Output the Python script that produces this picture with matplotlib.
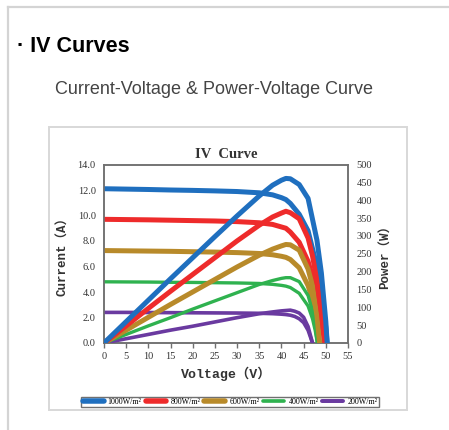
import matplotlib
matplotlib.use('Agg')
import matplotlib.pyplot as plt
from matplotlib.patches import Rectangle
from matplotlib.lines import Line2D

# irradiance levels and colours
labels = ['1000W/m²', '800W/m²', '600W/m²', '400W/m²', '200W/m²']
colors = ['#1f6fbf', '#ee2b2b', '#b88a2a', '#2fb24f', '#6a3aa0']
widths = [3.6, 3.6, 3.6, 2.4, 2.6]

# voltage samples (V)
v_1000 = [0, 5, 10, 15, 20, 25, 30, 35, 38, 40, 41, 42, 44, 46, 48, 49, 50, 50.3]
v_800 = [0, 5, 10, 15, 20, 25, 30, 35, 38, 40, 41, 42, 44, 46, 47, 48, 49, 49.8]
v_600 = [0, 5, 10, 15, 20, 25, 30, 35, 38, 40, 41, 42, 44, 46, 47, 48, 48.6]
v_400 = [0, 5, 10, 15, 20, 25, 30, 35, 38, 40, 41, 42, 44, 46, 47, 47.6, 48.1]
v_200 = [0, 5, 10, 15, 20, 25, 30, 35, 38, 40, 41, 42, 43, 44, 45, 46, 47]

# current (A)
i_1000 = [12.1, 12.07, 12.04, 12.0, 11.97, 11.93, 11.88, 11.78, 11.62, 11.4, 11.25,
          10.95, 10.1, 8.8, 6.0, 4.0, 1.2, 0]
i_800 = [9.7, 9.68, 9.66, 9.63, 9.6, 9.57, 9.52, 9.43, 9.3, 9.1, 9.0, 8.7, 7.9,
         6.4, 5.2, 3.6, 1.7, 0]
i_600 = [7.25, 7.23, 7.21, 7.19, 7.16, 7.13, 7.09, 7.02, 6.92, 6.8, 6.72, 6.55,
         5.9, 4.5, 3.4, 1.6, 0]
i_400 = [4.8, 4.79, 4.78, 4.76, 4.75, 4.73, 4.71, 4.67, 4.6, 4.52, 4.46, 4.35,
         3.9, 2.9, 1.9, 1.0, 0]
i_200 = [2.4, 2.4, 2.39, 2.38, 2.37, 2.36, 2.35, 2.33, 2.3, 2.26, 2.23, 2.18,
         2.08, 1.9, 1.6, 1.0, 0]

# power (W)
p_1000 = [0, 60, 120, 180, 239, 298, 356, 412, 442, 456, 461, 460, 444, 405,
          288, 196, 60, 0]
p_800 = [0, 48, 97, 145, 192, 239, 286, 330, 353, 364, 369, 365, 348, 294, 244,
         173, 83, 0]
p_600 = [0, 36, 72, 108, 143, 178, 213, 246, 263, 272, 276, 275, 260, 207, 160,
         77, 0]
p_400 = [0, 24, 48, 71, 95, 118, 141, 164, 175, 181, 183, 183, 172, 133, 89,
         48, 0]
p_200 = [0, 12, 24, 36, 47, 59, 71, 82, 87, 90, 91, 92, 89, 84, 72, 46, 0]

volts = [v_1000, v_800, v_600, v_400, v_200]
currents = [i_1000, i_800, i_600, i_400, i_200]
powers = [p_1000, p_800, p_600, p_400, p_200]

fig = plt.figure(figsize=(4.49, 4.3), dpi=100)

# page frame
fig.add_artist(Line2D([8 / 449, 1], [1 - 6.5 / 430] * 2, color='#d4d4d4', lw=1.6))
fig.add_artist(Line2D([8 / 449] * 2, [0, 1 - 6.5 / 430], color='#d4d4d4', lw=1.6))
fig.add_artist(Rectangle((49 / 449, 1 - 410 / 430), 358 / 449, 283 / 430,
                         fill=False, ec='#d8d8d8', lw=1.4))

fig.text(17 / 449, 1 - 46 / 430, '· IV Curves', family='Liberation Sans',
         weight='bold', fontsize=15.5, va='center')
fig.text(55 / 449, 1 - 89 / 430, 'Current-Voltage & Power-Voltage Curve',
         family='Liberation Sans', fontsize=13, color='#444444', va='center')

ax = fig.add_axes([104 / 449, 1 - 343 / 430, 244 / 449, 178.5 / 430])
ax2 = ax.twinx()

for k in range(4, -1, -1):
    ax.plot(volts[k], currents[k], color=colors[k], lw=widths[k],
            solid_capstyle='round', zorder=3 + (4 - k))
    ax2.plot(volts[k], powers[k], color=colors[k], lw=widths[k],
             solid_capstyle='round', zorder=3 + (4 - k))

ax.set_xlim(0, 55)
ax.set_ylim(0, 14)
ax2.set_ylim(0, 500)
ax.set_xticks(range(0, 56, 5))
ax.set_yticks([0, 2, 4, 6, 8, 10, 12, 14])
ax.set_yticklabels(['%.1f' % t for t in [0, 2, 4, 6, 8, 10, 12, 14]])
ax2.set_yticks(range(0, 501, 50))

for a in (ax, ax2):
    for s in a.spines.values():
        s.set_color('#707070')
        s.set_linewidth(1.1)
    for lab in a.get_xticklabels() + a.get_yticklabels():
        lab.set_family('Liberation Serif')
        lab.set_fontsize(7.5)
        lab.set_color('#333333')
ax.tick_params(axis='x', length=3.5, width=1, color='#707070', pad=3)
ax.tick_params(axis='y', length=0, pad=6)
ax2.tick_params(axis='y', length=0, pad=6)

lab_font = ['Liberation Mono', 'Noto Sans CJK SC']
ax.set_title('IV  Curve', family='Liberation Serif', weight='bold', fontsize=10.5,
             color='#333333', pad=5)
ax.set_xlabel('Voltage（V）', family=lab_font, weight='bold', fontsize=9.5,
              color='#333333', labelpad=4)
ax.set_ylabel('Current（A）', family=lab_font, weight='bold', fontsize=9,
              color='#333333', labelpad=6)
ax2.set_ylabel('Power（W）', family=lab_font, weight='bold', fontsize=9,
               color='#333333', labelpad=6)

handles = [Line2D([], [], color=colors[k], lw=widths[k] * 1.1,
                  solid_capstyle='round') for k in range(5)]
leg = fig.legend(handles, labels, loc='center', bbox_to_anchor=(230 / 449, 1 - 402 / 430),
                 ncol=5, prop={'family': 'Liberation Serif', 'size': 5.8},
                 handlelength=2.6, handletextpad=0.5, columnspacing=0.5,
                 borderpad=0.15, fancybox=False, edgecolor='#707070',
                 framealpha=1)
leg.get_frame().set_linewidth(1.0)

fig.savefig('out.png', dpi=100)
